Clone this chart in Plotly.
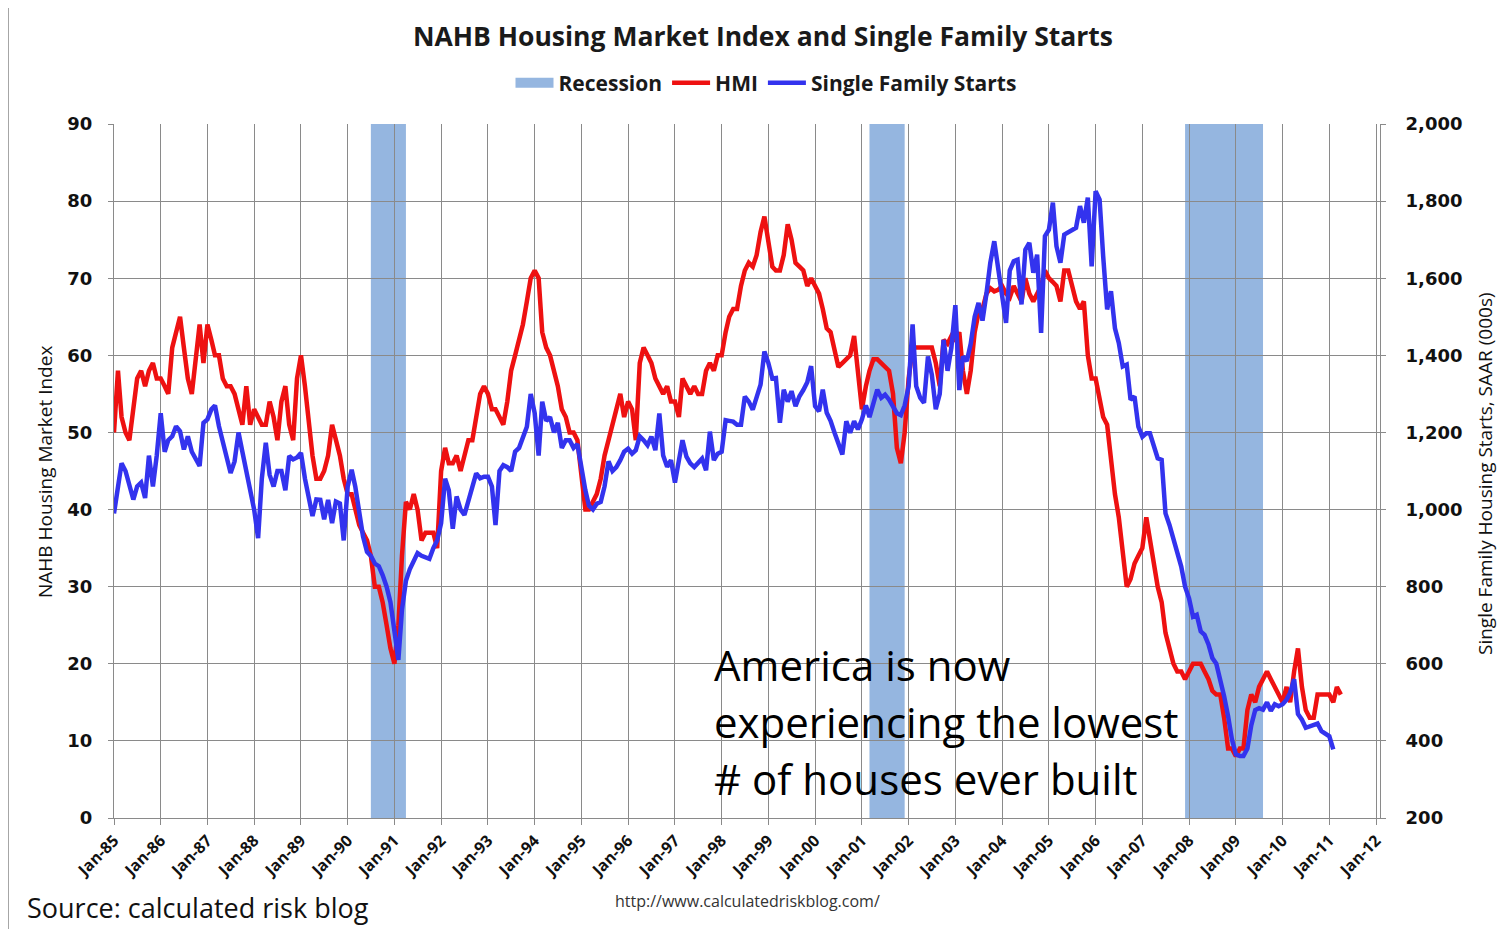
import plotly.graph_objects as go
import pandas as pd

# ---------------- data ----------------
start_month = "1985-01-01"

hmi = [
    50, 58, 52, 50, 49, 53, 57, 58, 56, 58, 59, 57,          # 1985
    57, 56, 55, 61, 63, 65, 61, 57, 55, 60, 64, 59,          # 1986
    64, 62, 60, 60, 57, 56, 56, 55, 53, 51, 56, 51,          # 1987
    53, 52, 51, 51, 54, 52, 49, 54, 56, 51, 49, 57,          # 1988
    60, 56, 52, 47, 44, 44, 45, 47, 51, 49, 47, 44,          # 1989
    42, 42, 40, 38, 37, 36, 34, 30, 30, 28, 25, 22,          # 1990
    20, 25, 34, 41, 40, 42, 40, 36, 37, 37, 37, 35,          # 1991
    45, 48, 46, 46, 47, 45, 47, 49, 49, 52, 55, 56,          # 1992
    55, 53, 53, 52, 51, 54, 58, 60, 62, 64, 67, 70,          # 1993
    71, 70, 63, 61, 60, 58, 56, 53, 52, 50, 50, 49,          # 1994
    44, 40, 40, 41, 42, 44, 47, 49, 51, 53, 55, 52,          # 1995
    54, 53, 49, 59, 61, 60, 59, 57, 56, 55, 56, 54,          # 1996
    54, 52, 57, 56, 55, 56, 55, 55, 58, 59, 58, 60,          # 1997
    60, 63, 65, 66, 66, 69, 71, 72, 71.5, 73, 76, 78,        # 1998
    75, 71.5, 71, 71, 73, 77, 75, 72, 71.5, 71, 69, 70,      # 1999
    69, 68, 66, 63.5, 63, 61, 58.5, 59, 59.5, 60, 62.5, 58,  # 2000
    53, 56, 58, 59.5, 59.5, 59, 58.5, 58, 55, 48, 46, 50,    # 2001
    57, 61, 61, 61, 61, 61, 61, 59, 56, 62, 61.5, 62.5,      # 2002
    62, 63, 58, 55, 58, 63, 65.5, 66, 68, 68.7, 68.3, 68.5,  # 2003
    69, 68, 67.5, 69, 68, 67, 70, 68, 67, 68, 69, 71,        # 2004
    70, 69.5, 69, 67, 71, 71, 69, 67, 66, 67, 60, 57,        # 2005
    57, 54, 52, 51, 46, 42, 39, 34, 30, 31, 33, 34,          # 2006
    35, 39, 36, 33, 30, 28, 24, 22, 20, 19, 19, 18,          # 2007
    19, 20, 20, 20, 19, 18, 16.5, 16, 16, 13, 9, 9,          # 2008
    8, 9, 9, 14, 16, 15, 17, 18, 19, 18, 17, 16,             # 2009
    15, 17, 15, 19, 22, 17, 14, 13, 13, 16, 16, 16,          # 2010
    16, 15, 17, 16,                                          # 2011
]

sf_starts = [
    990, 1070, 1120, 1100, 1060, 1026, 1060, 1070, 1030, 1140, 1060, 1140,    # 1985
    1250, 1150, 1180, 1190, 1216, 1203, 1156, 1190, 1150, 1130, 1113, 1225,   # 1986
    1234, 1260, 1270, 1216, 1173, 1140, 1095, 1125, 1200, 1150, 1104, 1050,   # 1987
    1000, 926, 1080, 1173, 1090, 1060, 1100, 1100, 1050, 1139, 1130, 1135,    # 1988
    1147, 1080, 1026, 983, 1026, 1025, 975, 1025, 965, 1021, 1016, 920,       # 1989
    1060, 1103, 1060, 985, 930, 890, 880, 860, 853, 830, 800, 760,            # 1990
    690, 610, 740, 815, 845, 870, 887, 880, 875, 872, 900, 920,               # 1991
    965, 1080, 1050, 950, 1034, 1000, 986, 1025, 1060, 1094, 1081, 1085,      # 1992
    1085, 1060, 960, 1100, 1115, 1110, 1100, 1150, 1160, 1190, 1215, 1300,    # 1993
    1250, 1140, 1280, 1230, 1240, 1200, 1225, 1160, 1180, 1180, 1160, 1170,   # 1994
    1105, 1050, 1010, 1000, 1015, 1020, 1060, 1125, 1100, 1110, 1128, 1150,   # 1995
    1158, 1145, 1154, 1190, 1180, 1167, 1189, 1154, 1249, 1140, 1111, 1128,   # 1996
    1070, 1130, 1180, 1137, 1120, 1110, 1119, 1132, 1102, 1202, 1128, 1145,   # 1997
    1150, 1232, 1230, 1228, 1220, 1220, 1293, 1280, 1259, 1290, 1324, 1410,   # 1998
    1380, 1340, 1341, 1225, 1311, 1280, 1307, 1268, 1294, 1310, 1330, 1372,   # 1999
    1268, 1255, 1311, 1251, 1230, 1199, 1170, 1143, 1229, 1199, 1229, 1208,   # 2000
    1234, 1270, 1240, 1280, 1311, 1290, 1298, 1285, 1268, 1250, 1245, 1270,   # 2001
    1320, 1480, 1320, 1290, 1277, 1397, 1350, 1260, 1300, 1440, 1360, 1420,   # 2002
    1530, 1310, 1397, 1385, 1430, 1500, 1536, 1490, 1560, 1640, 1696, 1620,   # 2003
    1560, 1484, 1620, 1644, 1648, 1532, 1674, 1692, 1614, 1661, 1458, 1709,   # 2004
    1726, 1796, 1683, 1640, 1713, 1720, 1726, 1731, 1787, 1744, 1809, 1631,   # 2005
    1826, 1804, 1657, 1519, 1566, 1470, 1432, 1371, 1376, 1285, 1293, 1215,   # 2006
    1189, 1198, 1198, 1160, 1133, 1129, 990, 960, 921, 880, 852, 800,         # 2007
    770, 722, 727, 684, 675, 650, 615, 600, 560, 516, 464, 404,               # 2008
    365, 361, 361, 380, 440, 480, 485, 481, 500, 478, 495, 490,               # 2009
    495, 507, 525, 560, 470, 455, 434, 438, 440, 445, 425, 420,               # 2010
    412, 378,                                                                 # 2011
]

recessions = [
    ("1990-07-01", "1991-04-01"),
    ("2001-03-01", "2001-12-01"),
    ("2007-12-01", "2009-08-01"),
]

tick_dates = ["1985-01-01", "1986-01-01", "1987-01-01", "1988-01-01", "1989-01-01",
              "1990-01-01", "1991-01-01", "1992-01-01", "1993-01-01", "1994-01-01",
              "1995-01-01", "1996-01-01", "1997-01-01", "1998-01-01", "1999-01-01",
              "2000-01-01", "2001-01-01", "2002-01-01", "2003-01-01", "2004-01-01",
              "2005-01-01", "2006-01-01", "2007-01-01", "2008-01-01", "2009-01-01",
              "2010-01-01", "2011-01-01", "2012-01-01"]
tick_labels = ["Jan-85", "Jan-86", "Jan-87", "Jan-88", "Jan-89", "Jan-90", "Jan-91",
               "Jan-92", "Jan-93", "Jan-94", "Jan-95", "Jan-96", "Jan-97", "Jan-98",
               "Jan-99", "Jan-00", "Jan-01", "Jan-02", "Jan-03", "Jan-04", "Jan-05",
               "Jan-06", "Jan-07", "Jan-08", "Jan-09", "Jan-10", "Jan-11", "Jan-12"]

hmi_ticks = [0, 10, 20, 30, 40, 50, 60, 70, 80, 90]
starts_ticks = [200, 400, 600, 800, 1000, 1200, 1400, 1600, 1800, 2000]

# ---------------- styling ----------------
RED = "#EE1111"
BLUE = "#3333EE"
REC = "#95B6E0"
GRID = "#8a8a8a"
FONT = "Open Sans"
TICKFONT = "DejaVu Sans"

OFF = 8                      # page body margin of the html page
PAGE_W, PAGE_H = 1505, 929
W, H = PAGE_W - OFF, PAGE_H - OFF
# plot area in page pixels: x 114..1380, y 124..818
L = 114 - OFF
T = 124 - OFF
R = W - (1380 - OFF)
B = H - (818 - OFF)
PW, PH = W - L - R, H - T - B


def px(x):
    """page x pixel -> paper coordinate"""
    return (x - OFF - L) / PW


def py(y):
    """page y pixel -> paper coordinate"""
    return (H - B - (y - OFF)) / PH


months_hmi = pd.date_range(start_month, periods=len(hmi), freq="MS")
months_sf = pd.date_range(start_month, periods=len(sf_starts), freq="MS")

fig = go.Figure()

fig.add_trace(go.Scatter(
    x=[None], y=[None], mode="lines", name="Recession",
    line=dict(color=REC, width=14), hoverinfo="skip"))
fig.add_trace(go.Scatter(
    x=months_hmi, y=hmi, mode="lines", name="HMI",
    line=dict(color=RED, width=4.5)))
fig.add_trace(go.Scatter(
    x=months_sf, y=sf_starts, mode="lines", name="Single Family Starts",
    line=dict(color=BLUE, width=4.5), yaxis="y2"))

shapes = []
for a, b in recessions:
    shapes.append(dict(type="rect", xref="x", yref="paper", x0=a, x1=b, y0=0, y1=1,
                       fillcolor=REC, line=dict(width=0), layer="below"))
# outer frame
shapes.append(dict(type="rect", xref="paper", yref="paper",
                   x0=px(8.5), x1=px(1499), y0=py(940), y1=py(5),
                   line=dict(color="#a6a6a6", width=1), fillcolor="rgba(0,0,0,0)",
                   layer="above"))

annotations = [
    dict(text="NAHB Housing Market Index", xref="paper", yref="paper",
         x=px(45), y=py(472), textangle=-90, showarrow=False,
         font=dict(family=FONT, size=19, color="#111"),
         xanchor="center", yanchor="middle"),
    dict(text="Single Family Housing Starts, SAAR (000s)", xref="paper", yref="paper",
         x=px(1485), y=py(474), textangle=-90, showarrow=False,
         font=dict(family=FONT, size=19, color="#111"),
         xanchor="center", yanchor="middle"),
    dict(text="http://www.calculatedriskblog.com/", xref="paper", yref="paper",
         x=px(747), y=py(901), showarrow=False,
         font=dict(family=FONT, size=16, color="#333"),
         xanchor="center", yanchor="middle"),
    dict(text="Source: calculated risk blog", xref="paper", yref="paper",
         x=px(25), y=py(907), showarrow=False,
         font=dict(family=FONT, size=27, color="#111"),
         xanchor="left", yanchor="middle"),
]
for txt, yc in [("America is now", 664),
                ("experiencing the lowest", 721),
                ("# of houses ever built", 778)]:
    annotations.append(dict(text=txt, xref="paper", yref="paper",
                            x=px(712), y=py(yc), showarrow=False,
                            font=dict(family=FONT, size=42, color="#000"),
                            xanchor="left", yanchor="middle"))

fig.update_layout(
    width=W, height=H,
    margin=dict(l=L, r=R, t=T, b=B),
    paper_bgcolor="white", plot_bgcolor="white",
    title=dict(text="<b>NAHB Housing Market Index and Single Family Starts</b>",
               x=px(763), xanchor="center", xref="paper",
               y=1 - (37 - OFF) / H, yanchor="middle", yref="container",
               font=dict(family=FONT, size=26.5, color="#1a1a1a")),
    legend=dict(orientation="h", x=px(766), xanchor="center",
                y=py(83), yanchor="middle",
                font=dict(family=FONT, size=21, color="#1a1a1a", weight="bold"),
                itemwidth=38, bgcolor="rgba(0,0,0,0)"),
    showlegend=True,
    shapes=shapes,
    annotations=annotations,
    xaxis=dict(
        type="date", range=["1985-01-01", "2012-02-01"],
        tickmode="array", tickvals=tick_dates, ticktext=tick_labels,
        tickangle=-45, showgrid=True, gridcolor=GRID, gridwidth=1,
        showline=True, linecolor=GRID, linewidth=1,
        ticks="outside", ticklen=6, tickcolor=GRID,
        tickfont=dict(family=FONT, size=16, color="#111", weight="bold"),
        zeroline=False),
    yaxis=dict(
        range=[0, 90], tickmode="array", tickvals=hmi_ticks,
        showgrid=True, gridcolor=GRID, gridwidth=1,
        showline=True, linecolor=GRID, linewidth=1,
        ticks="outside", ticklen=5, tickcolor=GRID,
        ticklabelstandoff=12,
        tickfont=dict(family=TICKFONT, size=18, color="#111", weight="bold"),
        zeroline=False),
    yaxis2=dict(
        range=[200, 2000], tickmode="array", tickvals=starts_ticks,
        tickformat=",", overlaying="y", side="right",
        showgrid=False, showline=True, linecolor=GRID, linewidth=1,
        ticks="outside", ticklen=5, tickcolor=GRID,
        ticklabelstandoff=16,
        tickfont=dict(family=TICKFONT, size=18, color="#111", weight="bold"),
        zeroline=False),
)

fig.write_html("out.html")
